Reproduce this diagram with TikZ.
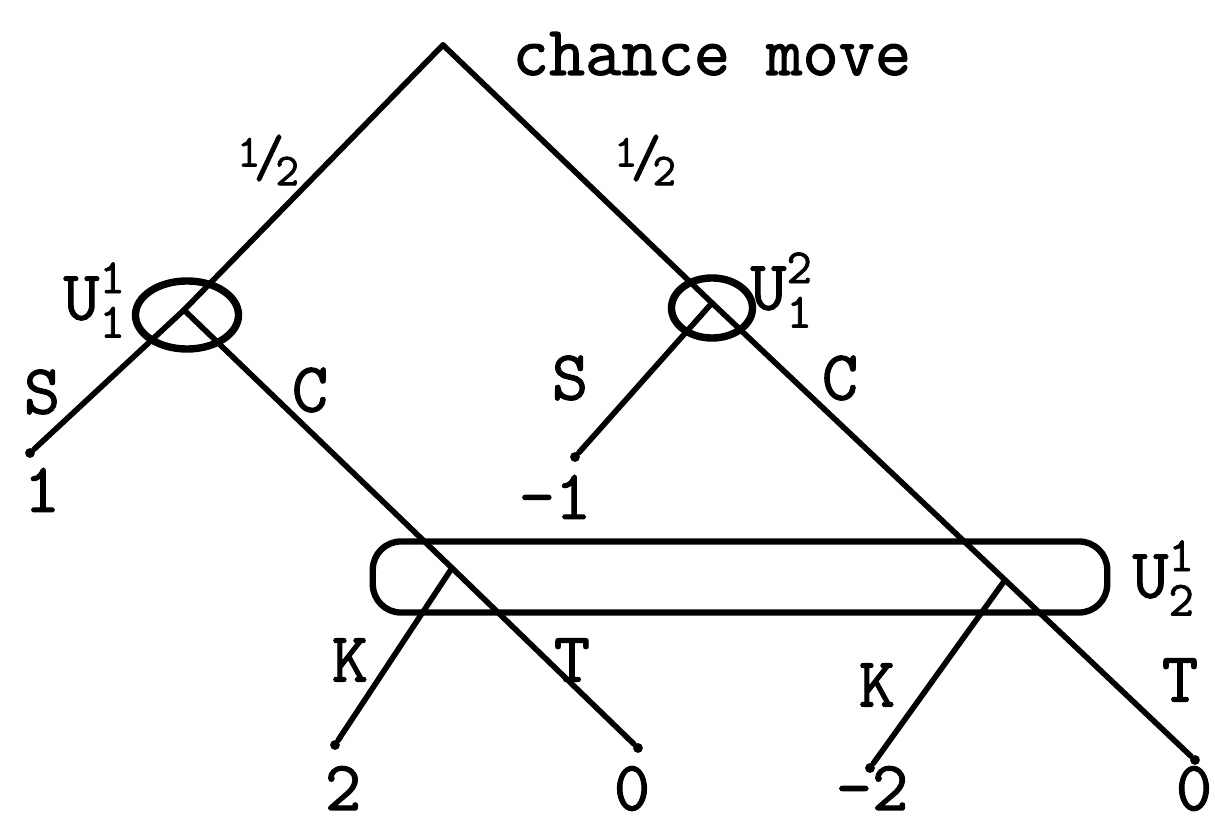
\documentclass[tikz,border=0pt]{standalone}
\usepackage{amsmath}
\usepackage{fontspec}
\newfontfamily\treefont{Latin Modern Mono}[FakeBold=1.5]
\usetikzlibrary{shapes.geometric}
\newcommand{\halfprob}{{\fontsize{13}{13}\selectfont\raisebox{0.5ex}{1}\kern-0.15em\fontsize{17}{17}\selectfont/\kern-0.15em\fontsize{13}{13}\selectfont\raisebox{-0.45ex}{2}}}

\begin{document}
\begin{tikzpicture}[x=0.01cm,y=-0.01cm,
 every node/.style={font=\treefont\fontsize{20}{22}\selectfont,inner sep=0pt},
 branch/.style={line width=1.6pt,line cap=round},
 leaf/.style={circle,fill=black,inner sep=0pt,minimum size=2.8pt},
 infoset/.style={draw=black,line width=2.1pt,ellipse,minimum width=#1},
 infoset/.default=1cm,
 infobar/.style={draw=black,line width=1.8pt,rounded corners=8pt}]
\useasboundingbox (0,0) rectangle (1215,825);
% decision points
\coordinate (root) at (443,45);
\coordinate (dec11) at (184,310);
\coordinate (dec12) at (712,303);
\coordinate (dec21) at (452,568);
\coordinate (dec22) at (1005,580);
% payoffs
\node[leaf] (leafS1) at (30,453) {};
\node[leaf] (leafS2) at (575,457) {};
\node[leaf] (leafK1) at (335,745) {};
\node[leaf] (leafT1) at (638,748) {};
\node[leaf] (leafK2) at (870,768) {};
\node[leaf] (leafT2) at (1195,760) {};
% information sets
\node[infoset=1.03cm, minimum height=0.68cm] (set11) at (187,315) {};
\node[infoset=0.81cm, minimum height=0.6cm] (set12) at (712,308) {};
\node[infobar, minimum width=7.34cm, minimum height=0.71cm] (set2) at (740,577) {};
% branches
\draw[branch] (root) -- (dec11) -- (leafS1);
\draw[branch] (root) -- (dec12);
\draw[branch] (dec12) -- (leafS2);
\draw[branch] (dec11) -- (dec21) -- (leafT1);
\draw[branch] (dec21) -- (leafK1);
\draw[branch] (dec12) -- (dec22) -- (leafT2);
\draw[branch] (dec22) -- (leafK2);
% labels
\node[anchor=base west] (chance) at (512,75) {chance move};
\node (p1) at (268,160) {\halfprob};
\node (p2) at (645,160) {\halfprob};
\node (u11) at (95,300) {U$^{\text{1}}_{\text{1}}$};
\node (u12) at (782,290) {U$^{\text{2}}_{\text{1}}$};
\node (u21) at (1164,578) {U$^{\text{1}}_{\text{2}}$};
\node (s1) at (42,392) {S};
\node (c1) at (310,390) {C};
\node (s2) at (570,378) {S};
\node (c2) at (840,378) {C};
\node (k1) at (350,660) {K};
\node (t1) at (572,660) {T};
\node (k2) at (877,685) {K};
\node (t2) at (1180,680) {T};
\node (v1) at (42,490) {1};
\node (v2) at (555,497) {-1};
\node[anchor=base] (v3) at (343,810) {2};
\node[anchor=base] (v4) at (632,810) {0};
\node[anchor=base] (v5) at (872,810) {-2};
\node[anchor=base] (v6) at (1194,810) {0};
\end{tikzpicture}
\end{document}
